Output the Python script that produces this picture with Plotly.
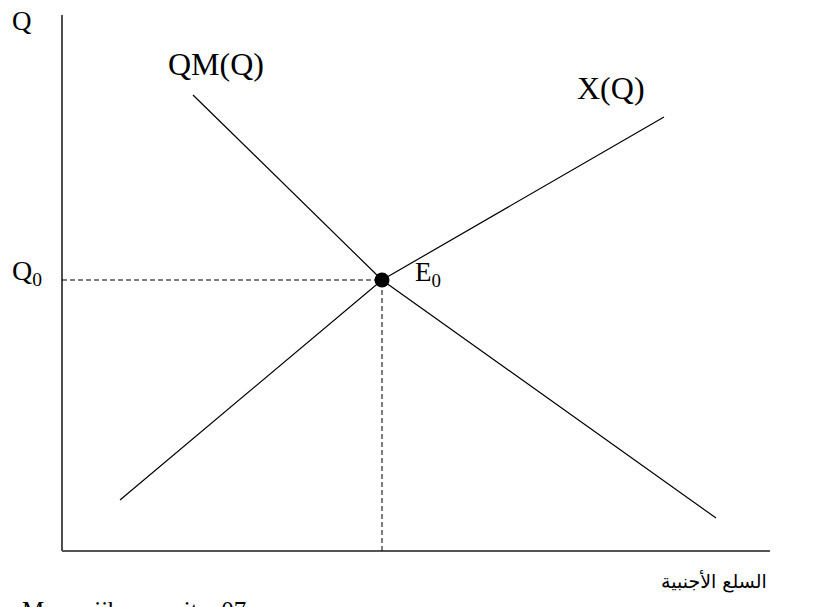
import plotly.graph_objects as go

# Data (economic units; origin at the axes intersection)
e_point = (320, 271)
qm_x = [131, 320, 654]
qm_y = [456, 271, 33]
x_x = [58, 320, 602]
x_y = [51, 271, 434]
axis_x_max = 708
axis_y_max = 536

labels = {
    "Q": "Q",
    "Q0": "Q<sub>0</sub>",
    "E0": "E<sub>0</sub>",
    "QM": "QM(Q)",
    "X": "X(Q)",
    "xlab": "السلع الأجنبية",
    "foot": "Memeriib&nbsp;&nbsp; ee&nbsp; site&nbsp; 07",
}

serif = "Liberation Serif, Times New Roman, DejaVu Serif, serif"
fig = go.Figure()

# axes
fig.add_trace(go.Scatter(x=[0, 0], y=[0, axis_y_max], mode="lines",
                         line=dict(color="#222", width=1.6), hoverinfo="skip"))
fig.add_trace(go.Scatter(x=[0, axis_x_max], y=[0, 0], mode="lines",
                         line=dict(color="#555", width=2.2), hoverinfo="skip"))
# dashed guides
fig.add_trace(go.Scatter(x=[0, e_point[0]], y=[e_point[1], e_point[1]], mode="lines",
                         line=dict(color="black", width=1, dash="5px,3px"), hoverinfo="skip"))
fig.add_trace(go.Scatter(x=[e_point[0], e_point[0]], y=[0, e_point[1]], mode="lines",
                         line=dict(color="black", width=1, dash="5px,3px"), hoverinfo="skip"))
# curves
fig.add_trace(go.Scatter(x=qm_x, y=qm_y, mode="lines",
                         line=dict(color="black", width=1.2), hoverinfo="skip"))
fig.add_trace(go.Scatter(x=x_x, y=x_y, mode="lines",
                         line=dict(color="black", width=1.2), hoverinfo="skip"))
# equilibrium
fig.add_trace(go.Scatter(x=[e_point[0]], y=[e_point[1]], mode="markers",
                         marker=dict(color="black", size=15), hoverinfo="skip"))

ann = [
    dict(x=-40, y=551 - 21, text=labels["Q"], size=27),
    dict(x=-35, y=551 - 272, text=labels["Q0"], size=28),
    dict(x=e_point[0] + 46, y=551 - 274, text=labels["E0"], size=27),
    dict(x=154, y=551 - 64, text=labels["QM"], size=32),
    dict(x=549, y=551 - 88, text=labels["X"], size=32),
]
for a in ann:
    fig.add_annotation(x=a["x"], y=a["y"], text=a["text"], showarrow=False,
                       font=dict(family=serif, size=a["size"], color="black"),
                       xanchor="center", yanchor="middle", borderpad=0)

W, H, OFF = 831, 607, 8
fig.add_annotation(x=(714 - OFF) / W, y=1 - (581 - OFF) / H, xref="paper", yref="paper",
                   text=labels["xlab"], showarrow=False, xanchor="center", yanchor="middle",
                   font=dict(family="DejaVu Serif, DejaVu Sans, serif", size=19, color="black"))
fig.add_annotation(x=(20 - OFF) / W, y=1 - (595 - OFF) / H, xref="paper", yref="paper",
                   text=labels["foot"], showarrow=False, xanchor="left", yanchor="top",
                   font=dict(family=serif, size=25, color="black"))

fig.update_layout(
    width=W, height=H,
    margin=dict(l=0, r=0, t=0, b=0),
    paper_bgcolor="white", plot_bgcolor="white",
    showlegend=False,
    xaxis=dict(range=[-54, 777], visible=False, fixedrange=True),
    yaxis=dict(range=[-64, 543], visible=False, fixedrange=True),
)
fig.write_html("out.html")
